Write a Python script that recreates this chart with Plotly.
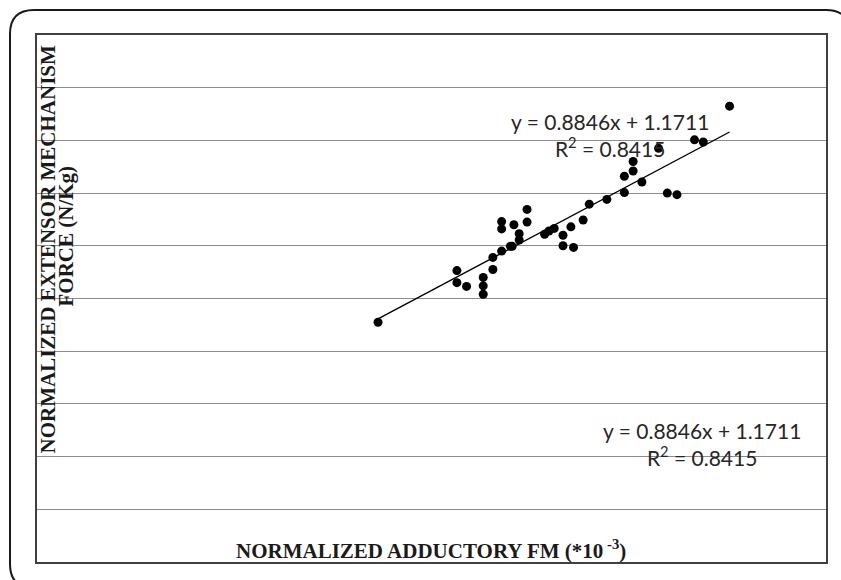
import plotly.graph_objects as go

# ---- data ----
adductory_fm = [3.89, 4.79, 4.79, 4.90, 5.09, 5.09, 5.09, 5.20, 5.20, 5.30,
                5.30, 5.30, 5.40, 5.42, 5.44, 5.50, 5.50, 5.59, 5.59, 5.79,
                5.84, 5.90, 6.00, 6.00, 6.09, 6.12, 6.23, 6.30, 6.50, 6.70,
                6.70, 6.80, 6.80, 6.90, 7.09, 7.19, 7.30, 7.50, 7.60, 7.90]
extensor_force = [4.55, 5.53, 5.30, 5.23, 5.40, 5.24, 5.08, 5.55, 5.78, 5.90,
                  6.32, 6.46, 5.99, 5.99, 6.40, 6.23, 6.11, 6.69, 6.45, 6.22,
                  6.28, 6.33, 6.20, 6.00, 6.36, 5.97, 6.49, 6.79, 6.88, 7.01,
                  7.32, 7.42, 7.60, 7.21, 7.85, 7.00, 6.97, 8.01, 7.97, 8.65]
slope = 0.8846
intercept = 1.1711
r_squared = 0.8415

eq_text = f"y = {slope}x + {intercept}<br>R<sup>2</sup> = {r_squared}"

# ---- geometry helpers (pixel -> paper) ----
W, H = 841, 580
L, R, T, B = 37, 826, 35, 562
def px(x):
    return (x - L) / (R - L)
def py(y):
    return (B - y) / (B - T)

x_trend = [min(adductory_fm), max(adductory_fm)]
y_trend = [slope * v + intercept for v in x_trend]

fig = go.Figure()
fig.add_trace(go.Scatter(x=x_trend, y=y_trend, mode="lines",
                         line=dict(color="black", width=1.4),
                         hoverinfo="skip", showlegend=False))
fig.add_trace(go.Scatter(x=adductory_fm, y=extensor_force, mode="markers",
                         marker=dict(color="black", size=9),
                         showlegend=False))

# outer rounded frame (only the parts that fall inside the picture)
x0, y0, x1, y1, r = 10, 10, 850, 588, 24
path = (f"M {px(x0+r)},{py(y1)} Q {px(x0)},{py(y1)} {px(x0)},{py(y1-r)} "
        f"L {px(x0)},{py(y0+r)} Q {px(x0)},{py(y0)} {px(x0+r)},{py(y0)} "
        f"L {px(x1-r)},{py(y0)} Q {px(x1)},{py(y0)} {px(x1)},{py(y0+r)}")
fig.add_shape(type="path", path=path, xref="paper", yref="paper",
              line=dict(color="#1a1a1a", width=2), layer="above")

serif = dict(family="Liberation Serif, Times New Roman, serif", size=21, color="#1a1a1a")
sans = dict(family="Lato, Carlito, sans-serif", size=21, color="#262626")

fig.add_annotation(x=px(47.5), y=py(249), xref="paper", yref="paper",
                   text="<b>NORMALIZED EXTENSOR MECHANISM</b>", textangle=-90,
                   showarrow=False, font=serif, xanchor="center", yanchor="middle")
fig.add_annotation(x=px(65.5), y=py(236), xref="paper", yref="paper",
                   text="<b>FORCE (N/Kg)</b>", textangle=-90,
                   showarrow=False, font=serif, xanchor="center", yanchor="middle")
fig.add_annotation(x=px(431), y=py(549), xref="paper", yref="paper",
                   text="<b>NORMALIZED ADDUCTORY FM (*10<sup> -3</sup>)</b>",
                   showarrow=False, font=serif, xanchor="center", yanchor="middle")
fig.add_annotation(x=px(609.5), y=py(135), xref="paper", yref="paper",
                   text=eq_text, showarrow=False, font=sans, align="center",
                   xanchor="center", yanchor="middle")
fig.add_annotation(x=px(702), y=py(444), xref="paper", yref="paper",
                   text=eq_text, showarrow=False, font=sans, align="center",
                   xanchor="center", yanchor="middle")

fig.update_xaxes(range=[0, 9], showgrid=False, zeroline=False, showticklabels=False,
                 ticks="", showline=True, mirror=True, linecolor="#404040", linewidth=1.5)
fig.update_yaxes(range=[0, 10], dtick=1, showgrid=True, gridcolor="#8c8c8c", gridwidth=1.3,
                 zeroline=False, showticklabels=False, ticks="",
                 showline=True, mirror=True, linecolor="#404040", linewidth=1.5)
fig.update_layout(width=W, height=H, autosize=False,
                  margin=dict(l=L, r=W - R, t=T, b=H - B, pad=0),
                  plot_bgcolor="white", paper_bgcolor="white")

fig.write_html("out.html", config={"displayModeBar": False},
               post_script="document.body.style.margin='0px';document.body.style.overflow='hidden';")
